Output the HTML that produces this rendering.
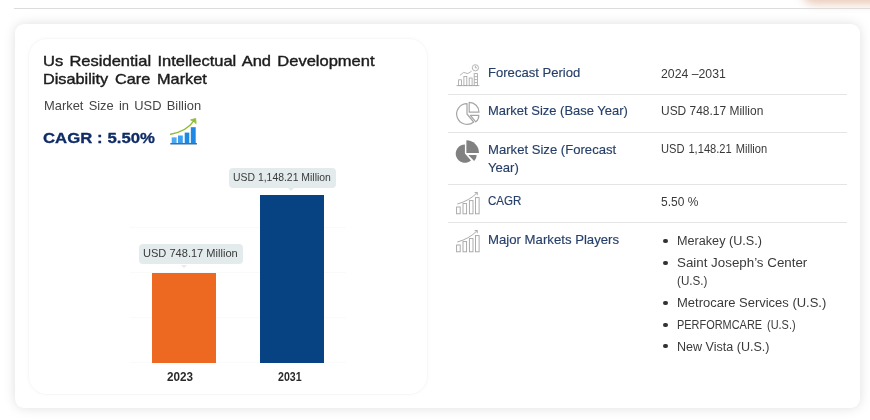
<!DOCTYPE html>
<html lang="en">
<head>
<meta charset="utf-8">
<title>Us Residential Intellectual And Development Disability Care Market</title>
<style>
*{box-sizing:border-box;margin:0;padding:0}
html,body{width:870px;height:420px;overflow:hidden;background:#fff}
body{position:relative;font-family:"Liberation Sans",sans-serif;color:#333}
.abs{position:absolute}
.t{position:absolute;white-space:nowrap;line-height:1;transform-origin:0 0}
#topline{left:14px;top:8px;width:856px;height:1px;background:#dcdcdc}
#glow{left:802px;top:-20px;width:90px;height:24px;border-radius:12px;background:#e7c4b0;filter:blur(5px);opacity:.9}
#outer{left:15px;top:24px;width:845px;height:384px;border-radius:9px;background:#fff;box-shadow:0 0 12px rgba(0,0,0,.13)}
#inner{left:29px;top:38.5px;width:397.5px;height:355.5px;border-radius:18px;background:#fff;box-shadow:0 0 0 1px rgba(0,0,0,.018),0 0 5px rgba(0,0,0,.035)}
.title{color:#1c1c1c;font-size:14.5px;-webkit-text-stroke:.4px #1c1c1c}
.sub{color:#454545;font-size:13px}
.cagr{color:#0f2c66;font-size:15.5px;font-weight:bold;-webkit-text-stroke:.3px #0f2c66}
.lbl{color:#263f69;font-size:13px;-webkit-text-stroke:.15px #263f69}
.val{color:#3a3a3a;font-size:12px}
.sep{position:absolute;left:448px;width:399px;height:1px;background:#e4e4e4}
.grid{position:absolute;left:130px;width:216px;height:1px;background:#fafafa}
.bar{position:absolute}
.tag{position:absolute;background:#e3ebec;border-radius:4px}
.tag i{position:absolute;bottom:-3.5px;margin-left:-3.5px;width:0;height:0;border-left:3.5px solid transparent;border-right:3.5px solid transparent;border-top:3.5px solid #e3ebec}
.tagt{color:#3a3a3a;font-size:11px}
.yr{color:#2a2a2a;font-size:12px;font-weight:bold}
.dot{position:absolute;width:4.6px;height:4.6px;border-radius:50%;background:#333;left:663px;margin-top:-.3px}
</style>
</head>
<body>
<div class="abs" id="glow"></div>
<div class="abs" id="topline"></div>
<div class="abs" id="outer"></div>
<div class="abs" id="inner"></div>


<!-- chart -->
<div class="grid" style="top:227px"></div>
<div class="grid" style="top:272px"></div>
<div class="grid" style="top:317px"></div>
<div class="grid" style="top:362px"></div>
<div class="bar" style="left:152px;top:273.1px;width:64.3px;height:89.5px;background:#ed6820"></div>
<div class="bar" style="left:259.6px;top:195px;width:64.3px;height:167.6px;background:#074382"></div>
<div class="tag" style="left:229px;top:167.5px;width:107.4px;height:20px"><i style="left:62.2px"></i></div>
<div class="tag" style="left:138.5px;top:244.2px;width:104.6px;height:20px"><i style="left:46.3px"></i></div>

<!-- right panel -->
<div class="sep" style="top:94px"></div>
<div class="sep" style="top:132px"></div>
<div class="sep" style="top:184px"></div>
<div class="sep" style="top:222px"></div>



<div class="dot" style="top:239px"></div>
<div class="dot" style="top:261px"></div>
<div class="dot" style="top:301px"></div>
<div class="dot" style="top:323px"></div>
<div class="dot" style="top:344px"></div>
<svg class="abs" id="icons" style="left:0;top:0" width="870" height="420" viewBox="0 0 870 420">
<!-- CAGR growth icon -->
<g id="ic-growth">
<rect x="171.7" y="137.4" width="4.9" height="6" fill="#4aa9f2"/>
<rect x="178" y="135.5" width="4.8" height="8" fill="#3d9ff0"/>
<rect x="184.7" y="132.6" width="4.6" height="11" fill="#1e88e5"/>
<rect x="190.8" y="127.2" width="4.9" height="16.3" fill="#1e88e5"/>
<rect x="170.3" y="143" width="26.6" height="1.5" fill="#3f6ea3"/>
<path d="M170.6 134.2 C180 132.5 189 128 194 120.6" fill="none" stroke="#90bc38" stroke-width="1.4" stroke-linecap="round"/>
<path d="M190.6 119.9 L195.6 118.5 L196.1 123.6 L193.6 121.2 Z" fill="#90bc38" stroke="#90bc38" stroke-width="0.9" stroke-linejoin="round"/>
</g>
<!-- forecast period icon -->
<g id="ic-forecast" fill="none" stroke="#a6a6a6" stroke-width="0.85">
<path d="M456.5 85.6 H479.3"/>
<rect x="458.6" y="79.8" width="2.9" height="5.8"/>
<rect x="463.9" y="76.5" width="2.9" height="9.1"/>
<rect x="469.2" y="78" width="2.9" height="7.6"/>
<rect x="474.2" y="73.6" width="3.2" height="12"/>
<path d="M474.2 76.6h3.2M474.2 79.6h3.2M474.2 82.6h3.2"/>
<path d="M460 75.3 L463.6 72.4 L467.8 73.6 L471.6 71.2"/>
<circle cx="475.4" cy="67.8" r="3.1"/>
<path d="M475.4 65.8 V67.9 H477"/>
</g>
<!-- pie outline icon -->
<g id="ic-pie-o" fill="none" stroke="#a6a6a6" stroke-width="1.2" stroke-linejoin="round">
<path d="M467 114 L467 103.6 A10.4 10.4 0 1 0 473.7 122 Z"/>
<path d="M469.2 112.2 L469.2 102.4 A9.8 9.8 0 0 1 479 112.2 Z"/>
<path d="M470.4 115.4 L478.8 115.4 A8.4 8.4 0 0 1 475.8 121.9 Z"/>
</g>
<!-- pie filled icon -->
<g id="ic-pie-f" fill="#818181" stroke="none">
<path d="M464.9 153.6 L464.9 144.4 A9.2 9.2 0 1 0 471 160.5 Z"/>
<path d="M466.4 152.9 L466.4 140.3 A12.6 12.6 0 0 1 479 152.9 Z"/>
<path d="M468.3 155 L476.7 155 A8.4 8.4 0 0 1 474.2 161 Z"/>
</g>
<!-- bars + arrow outline icons -->
<g id="ic-bars1" fill="none" stroke="#a3a3a3" stroke-width="0.9">
<rect x="456.6" y="207" width="3.6" height="6.8"/>
<rect x="463" y="203.6" width="3.6" height="10.2"/>
<rect x="469.4" y="200.6" width="3.6" height="13.2"/>
<rect x="475.5" y="197.6" width="3.6" height="16.2"/>
<path d="M457.3 204 C465 202 472 198 477 192.8"/>
<path d="M474.6 192.6 L477.4 192.4 L477.2 195.2"/>
</g>
<g id="ic-bars2" fill="none" stroke="#a3a3a3" stroke-width="0.9" transform="translate(0 38)">
<rect x="456.6" y="207" width="3.6" height="6.8"/>
<rect x="463" y="203.6" width="3.6" height="10.2"/>
<rect x="469.4" y="200.6" width="3.6" height="13.2"/>
<rect x="475.5" y="197.6" width="3.6" height="16.2"/>
<path d="M457.3 204 C465 202 472 198 477 192.8"/>
<path d="M474.6 192.6 L477.4 192.4 L477.2 195.2"/>
</g>
</svg>
<div class="t title" id="t1" style="left:43.41px;top:53.93px;transform:scaleX(1.1378);word-spacing:1.505px">Us Residential Intellectual And Development</div>
<div class="t title" id="t2" style="left:43.42px;top:72.33px;transform:scaleX(1.1217);word-spacing:2.099px">Disability Care Market</div>
<div class="t sub" id="t3" style="left:43.63px;top:99.10px;transform:scaleX(0.9911);word-spacing:1.700px">Market Size in USD Billion</div>
<div class="t cagr" id="t4" style="left:43.40px;top:130.08px;transform:scaleX(1.0793);word-spacing:0.150px">CAGR : 5.50%</div>
<div class="t tagt" id="g1" style="left:233.47px;top:171.89px;transform:scaleX(0.9473);word-spacing:0.000px">USD 1,148.21 Million</div>
<div class="t tagt" id="g2" style="left:142.94px;top:248.49px;transform:scaleX(1.0058);word-spacing:0.000px">USD 748.17 Million</div>
<div class="t yr" id="y1" style="left:167.30px;top:371.24px;transform:scaleX(0.9737);word-spacing:0.000px">2023</div>
<div class="t yr" id="y2" style="left:277.86px;top:371.24px;transform:scaleX(0.8838);word-spacing:0.000px">2031</div>
<div class="t lbl" id="l1" style="left:488.32px;top:66.40px;transform:scaleX(1.0058);word-spacing:0.000px">Forecast Period</div>
<div class="t lbl" id="l2" style="left:488.32px;top:104.40px;transform:scaleX(0.9979);word-spacing:0.000px">Market Size (Base Year)</div>
<div class="t lbl" id="l3" style="left:488.31px;top:142.60px;transform:scaleX(1.0082);word-spacing:0.000px">Market Size (Forecast</div>
<div class="t lbl" id="l3b" style="left:488.32px;top:160.60px;transform:scaleX(1.0062);word-spacing:0.000px">Year)</div>
<div class="t lbl" id="l4" style="left:488.41px;top:194.30px;transform:scaleX(0.8892);word-spacing:0.000px">CAGR</div>
<div class="t lbl" id="l5" style="left:488.31px;top:232.60px;transform:scaleX(1.0138);word-spacing:0.000px">Major Markets Players</div>
<div class="t val" id="v1" style="left:660.86px;top:67.54px;transform:scaleX(1.0220);word-spacing:0.000px">2024 –2031</div>
<div class="t val" id="v2" style="left:660.88px;top:105.44px;transform:scaleX(0.9959);word-spacing:0.000px">USD 748.17 Million</div>
<div class="t val" id="v3" style="left:660.93px;top:143.44px;transform:scaleX(0.9264);word-spacing:0.951px">USD 1,148.21 Million</div>
<div class="t val" id="v4" style="left:660.88px;top:195.64px;transform:scaleX(0.9984);word-spacing:0.000px">5.50 %</div>
<div class="t val" id="p1" style="left:676.64px;top:235.04px;transform:scaleX(1.0534);word-spacing:0.000px">Merakey (U.S.)</div>
<div class="t val" id="p2" style="left:676.60px;top:257.34px;transform:scaleX(1.1119);word-spacing:0.000px">Saint Joseph’s Center</div>
<div class="t val" id="p2b" style="left:676.70px;top:275.34px;transform:scaleX(0.9731);word-spacing:0.000px">(U.S.)</div>
<div class="t val" id="p3" style="left:676.62px;top:297.24px;transform:scaleX(1.0816);word-spacing:0.000px">Metrocare Services (U.S.)</div>
<div class="t val" id="p4" style="left:676.74px;top:319.44px;transform:scaleX(0.9119);word-spacing:2.045px">PERFORMCARE (U.S.)</div>
<div class="t val" id="p5" style="left:676.65px;top:340.84px;transform:scaleX(1.0456);word-spacing:0.000px">New Vista (U.S.)</div>
</body>
</html>
